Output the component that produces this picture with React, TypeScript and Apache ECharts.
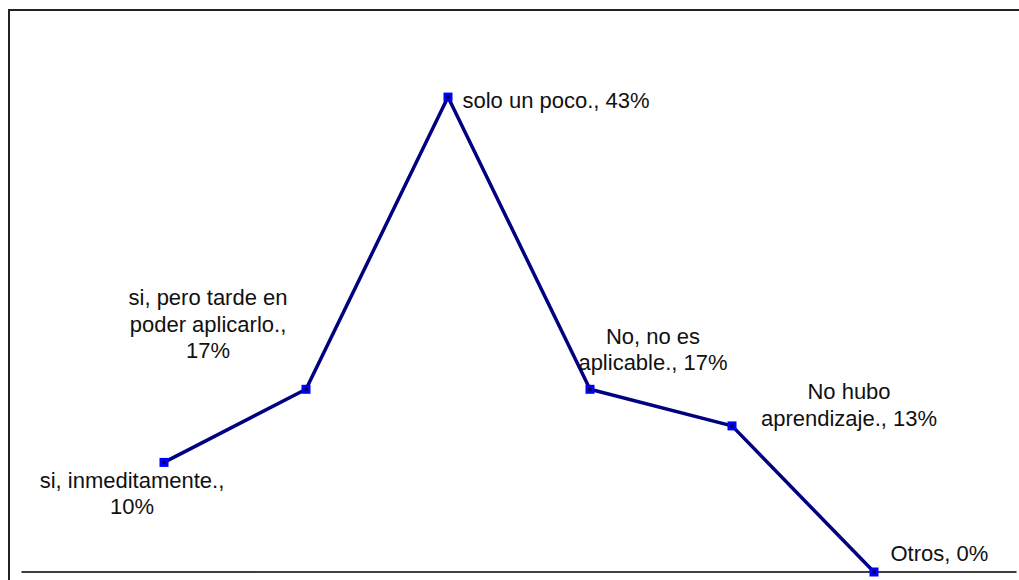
import React, { useEffect, useRef } from "react";
import * as echarts from "echarts";

const categories = ["", "si, inmeditamente.", "si, pero tarde en poder aplicarlo.", "solo un poco.", "No, no es aplicable.", "No hubo aprendizaje.", "Otros", ""];
const values: (number | null)[] = [null, 10, 16.67, 43.33, 16.67, 13.33, 0, null];
const labelTexts = ["", "si, inmeditamente.,\n10%", "si, pero tarde en\npoder aplicarlo.,\n17%", "solo un poco., 43%", "No, no es\naplicable., 17%", "No hubo\naprendizaje., 13%", "Otros, 0%", ""];

const labelPlacement: any[] = [
  null,
  { position: "inside", offset: [-32, 31], align: "center" },
  { position: "inside", offset: [-98, -65], align: "center" },
  { position: "right", distance: 10, offset: [0, 3], align: "left" },
  { position: "inside", offset: [63, -40], align: "center" },
  { position: "inside", offset: [117, -21], align: "center" },
  { position: "right", distance: 12, offset: [0, -19], align: "left" },
  null,
];

export default function App() {
  const ref = useRef<HTMLDivElement>(null);
  useEffect(() => {
    if (!ref.current) return;
    const chart = echarts.init(ref.current, null, { renderer: "svg" });
    const lineData = values.map((v, i) =>
      v === null
        ? null
        : {
            value: v,
            label: {
              show: true,
              formatter: labelTexts[i],
              ...labelPlacement[i],
            },
          }
    );
    chart.setOption({
      animation: false,
      backgroundColor: "#ffffff",
      grid: { left: 22, right: 3, top: 24, bottom: 8, containLabel: false },
      xAxis: {
        type: "category",
        data: categories,
        boundaryGap: false,
        axisLine: { show: true, lineStyle: { color: "#000000", width: 1.5 } },
        axisTick: { show: false },
        axisLabel: { show: false },
        splitLine: { show: false },
      },
      yAxis: {
        type: "value",
        min: 0,
        max: 50,
        show: false,
        splitLine: { show: false },
      },
      graphic: [
        {
          type: "polyline",
          shape: { points: [[9, 600], [9, 10], [1030, 10]] },
          style: { fill: null, stroke: "#222222", lineWidth: 2 },
          silent: true,
          z: 100,
        },
      ],
      series: [
        {
          type: "line",
          data: lineData,
          connectNulls: false,
          lineStyle: { color: "#000080", width: 3.5 },
          symbol: "rect",
          symbolSize: 9,
          showAllSymbol: true,
          itemStyle: { color: "#0000ff" },
          label: {
            show: true,
            fontFamily: "Liberation Sans, Arial, sans-serif",
            fontSize: 22,
            lineHeight: 26.5,
            color: "#111111",
            verticalAlign: "middle",
          },
          emphasis: { disabled: true },
          z: 2,
        },
        {
          type: "scatter",
          data: values,
          symbol: "rect",
          symbolSize: 3,
          itemStyle: { color: "#000000" },
          silent: true,
          z: 3,
        },
      ],
    });
    return () => chart.dispose();
  }, []);
  return (
    <div
      ref={ref}
      style={{ position: "absolute", left: 0, top: 0, width: 1019, height: 580 }}
    />
  );
}
